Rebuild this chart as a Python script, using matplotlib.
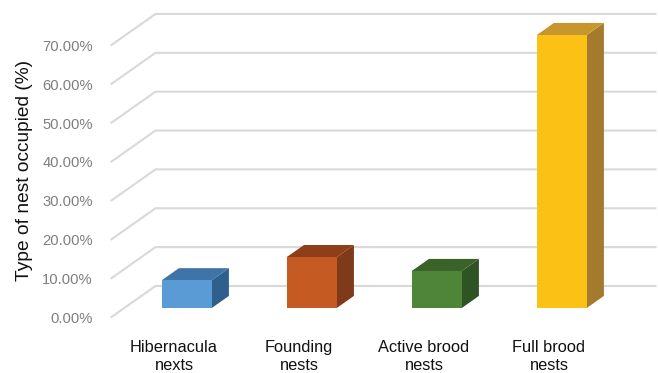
import matplotlib.pyplot as plt
from matplotlib.patches import Polygon

# data
categories = ["Hibernacula\nnexts", "Founding\nnests", "Active brood\nnests", "Full brood\nnests"]
values = [7.14, 13.10, 9.52, 70.24]
ticks = [0, 10, 20, 30, 40, 50, 60, 70]
tick_labels = ["0.00%", "10.00%", "20.00%", "30.00%", "40.00%", "50.00%", "60.00%", "70.00%"]

front_cols = ["#5B9BD5", "#C55A22", "#4E8539", "#FBC114"]
top_cols = ["#3F74A8", "#8E3F1A", "#3A6329", "#C7962E"]
side_cols = ["#2F5F8C", "#7F3A19", "#2F5423", "#A47B2E"]

plt.rcParams['font.family'] = ['Liberation Sans', 'DejaVu Sans']

# oblique projection: depth z in [0, 1] shifts x and y
DX, DY = 0.352, 7.98


def proj(x, v, z):
    return (x + DX * z, v + DY * z)


fig = plt.figure(figsize=(6.58, 3.73), dpi=100)
ax = fig.add_axes([0, 0, 1, 1])
ax.set_xlim(-1.392, 3.872)
ax.set_ylim(-14.41, 81.57)
ax.axis("off")

x0, x1 = -0.5, len(categories) - 0.5
grid_col = "#D9D9D9"
for t, lab in zip(ticks, tick_labels):
    a = proj(x0, t, 0)
    b = proj(x0, t, 1)
    c = proj(x1, t, 1)
    ax.plot([a[0], b[0], c[0]], [a[1], b[1], c[1]], color=grid_col, lw=1.5, zorder=1)
    ax.text(-0.648, t - 0.5, lab, ha="right", va="center", fontsize=10.6, color="#7F7F7F")

# bars
w = 0.2
z1, z2 = 0.29, 0.68
for i, v in enumerate(values):
    xl, xr = i - w, i + w
    front = [proj(xl, 0, z1), proj(xr, 0, z1), proj(xr, v, z1), proj(xl, v, z1)]
    top = [proj(xl, v, z1), proj(xr, v, z1), proj(xr, v, z2), proj(xl, v, z2)]
    side = [proj(xr, 0, z1), proj(xr, 0, z2), proj(xr, v, z2), proj(xr, v, z1)]
    ax.add_patch(Polygon(side, closed=True, fc=side_cols[i], ec="none", zorder=3))
    ax.add_patch(Polygon(top, closed=True, fc=top_cols[i], ec="none", zorder=3))
    ax.add_patch(Polygon(front, closed=True, fc=front_cols[i], ec="none", zorder=4))
    ax.text(i, -10.2, categories[i], ha="center", va="center", fontsize=11.8,
            color="#111111", linespacing=1.2)

ax.text(-1.192, 37.8, "Type of nest occupied (%)", rotation=90, ha="center", va="center",
        fontsize=13.8, color="#111111")

fig.savefig("out.png", dpi=100)
